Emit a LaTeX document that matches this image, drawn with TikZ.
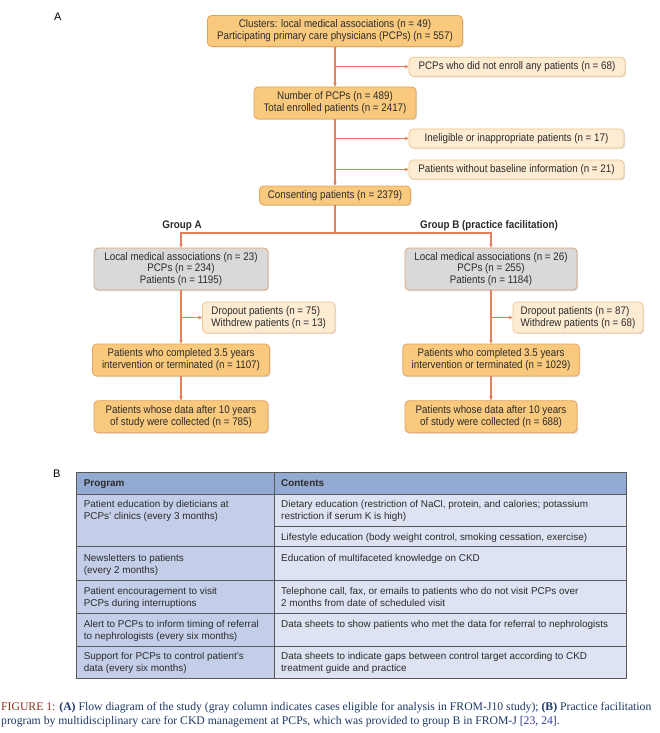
\documentclass[tikz,border=0pt]{standalone}
\usepackage{fontspec}
\setmainfont{Liberation Sans}
\newfontfamily\flowfont[FakeStretch=0.89]{Liberation Sans}
\newfontfamily\capfont{Liberation Serif}
\usetikzlibrary{arrows.meta,shadows}
\definecolor{ofill}{HTML}{F9C97E}
\definecolor{odraw}{HTML}{E3A35A}
\definecolor{sfill}{HTML}{FDEBD2}
\definecolor{sdraw}{HTML}{F1C792}
\definecolor{gfill}{HTML}{D9D9D9}
\definecolor{gdraw}{HTML}{D9A57A}
\definecolor{arr}{HTML}{E2805A}
\definecolor{thead}{HTML}{93AAD3}
\definecolor{tprog}{HTML}{C4CEE8}
\definecolor{tcont}{HTML}{DDE3F2}
\definecolor{tline}{HTML}{595959}
\definecolor{txt}{HTML}{2B2B2B}
\definecolor{capred}{HTML}{8E2F1F}
\definecolor{capblue}{HTML}{1E3868}
\definecolor{reflink}{HTML}{3B3BB5}
\begin{document}
\begin{tikzpicture}[x=1pt,y=-1pt,
  box/.style={rounded corners=4pt, line width=0.8pt, align=center, inner sep=0pt,
    text=txt, font=\flowfont\fontsize{11}{11.8}\selectfont,
    drop shadow={shadow xshift=1.2pt,shadow yshift=-1.2pt,opacity=0.25}},
  mainbox/.style={box, fill=ofill, draw=odraw},
  sidebox/.style={box, fill=sfill, draw=sdraw},
  graybox/.style={box, fill=gfill, draw=gdraw},
  conn/.style={draw=arr, line width=1.3pt},
  arrow/.style={conn, -{Stealth[length=4pt,width=3.8pt]}},
  cell/.style={anchor=base west, inner sep=0pt, text=txt, font=\fontsize{9.9}{12}\selectfont},
  hcell/.style={cell, font=\fontsize{9.9}{12}\selectfont\bfseries},
  grp/.style={anchor=base, inner sep=0pt, text=txt, font=\flowfont\fontsize{11}{12}\selectfont\bfseries},
  panel/.style={anchor=base west, inner sep=0pt, text=black, font=\fontsize{11}{13}\selectfont},
  capline/.style={anchor=base west, inner sep=0pt, text=capblue, font=\capfont\fontsize{11.7}{14}\selectfont},
  tl/.style={draw=tline, line width=0.8pt}
]
\useasboundingbox[fill=white] (0,0) rectangle (660,733);

% ---------- Panel A ----------
\node[panel] (labA) at (54,21) {A};

\node[mainbox, minimum width=255pt, minimum height=31pt] (top) at (335,31)
  {Clusters: local medical associations (n = 49)\\Participating primary care physicians (PCPs) (n = 557)};
\node[sidebox, minimum width=216pt, minimum height=19pt] (excl1) at (517,66.7)
  {PCPs who did not enroll any patients (n = 68)};
\node[mainbox, minimum width=162pt, minimum height=32pt] (n2) at (335,103)
  {Number of PCPs (n = 489)\\Total enrolled patients (n = 2417)};
\node[sidebox, minimum width=215pt, minimum height=19pt] (excl2) at (516.5,138.5)
  {Ineligible or inappropriate patients (n = 17)};
\node[sidebox, minimum width=215pt, minimum height=19pt] (excl3) at (516.5,169.5)
  {Patients without baseline information (n = 21)};
\node[mainbox, minimum width=151pt, minimum height=19pt] (cons) at (335,195.5)
  {Consenting patients (n = 2379)};

\node[grp] (gA) at (182,228.5) {Group A};
\node[grp] (gB) at (489,228.5) {Group B (practice facilitation)};

\node[graybox, minimum width=174pt, minimum height=42pt] (grayA) at (181,269)
  {Local medical associations (n = 23)\\PCPs (n = 234)\\Patients (n = 1195)};
\node[graybox, minimum width=172pt, minimum height=42pt] (grayB) at (491,269)
  {Local medical associations (n = 26)\\PCPs (n = 255)\\Patients (n = 1184)};

\node[sidebox, align=left, minimum width=132.5pt, minimum height=31pt] (dropA) at (268.75,317.5)
  {Dropout patients (n = 75)\\Withdrew patients (n = 13)};
\node[sidebox, align=left, minimum width=130pt, minimum height=31pt] (dropB) at (578,317.5)
  {Dropout patients (n = 87)\\Withdrew patients (n = 68)};

\node[mainbox, minimum width=177pt, minimum height=32pt] (compA) at (181,360)
  {Patients who completed 3.5 years\\intervention or terminated (n = 1107)};
\node[mainbox, minimum width=176.5pt, minimum height=32pt] (compB) at (491,360)
  {Patients who completed 3.5 years\\intervention or terminated (n = 1029)};

\node[mainbox, minimum width=174pt, minimum height=32pt] (finA) at (181,416.7)
  {Patients whose data after 10 years\\of study were collected (n = 785)};
\node[mainbox, minimum width=172pt, minimum height=32pt] (finB) at (491,416.7)
  {Patients whose data after 10 years\\of study were collected (n = 688)};

% connectors
\draw[arrow] (top.south) -- (n2.north);
\draw[arrow] (top.south |- excl1.west) -- (excl1.west);
\draw[arrow] (n2.south) -- (cons.north);
\draw[arrow] (n2.south |- excl2.west) -- (excl2.west);
\draw[arrow] (n2.south |- excl3.west) -- (excl3.west);
\coordinate (split) at (335,233);
\draw[conn] (cons.south) -- (split);
\draw[arrow] (split) -| (grayA.north);
\draw[arrow] (split) -| (grayB.north);
\draw[arrow] (grayA.south) -- (compA.north);
\draw[arrow] (grayA.south |- dropA.west) -- (dropA.west);
\draw[arrow] (compA.south) -- (finA.north);
\draw[arrow] (grayB.south) -- (compB.north);
\draw[arrow] (grayB.south |- dropB.west) -- (dropB.west);
\draw[arrow] (compB.south) -- (finB.north);

% ---------- Panel B ----------
\node[panel] (labB) at (53,477) {B};

\fill[thead] (76,472) rectangle (626.5,494);
\fill[tprog] (76,494) rectangle (274,678.3);
\fill[tcont] (274,494) rectangle (626.5,678.3);
\draw[tl] (76,472) rectangle (626.5,678.3);
\draw[tl] (274,472) -- (274,678.3);
\foreach \yy in {494,546.7,580,613.3,646} \draw[tl] (76,\yy) -- (626.5,\yy);
\draw[tl] (274,526) -- (626.5,526);

\node[hcell] (hprog) at (83.6,486.5) {Program};
\node[hcell] (hcont) at (281,486.5) {Contents};

\node[cell] (p1a) at (83.6,507.5) {Patient education by dieticians at};
\node[cell] (p1b) at (83.6,519.7) {PCPs' clinics (every 3 months)};
\node[cell] (c1a) at (281,507.5) {Dietary education (restriction of NaCl, protein, and calories; potassium};
\node[cell] (c1b) at (281,519.7) {restriction if serum K is high)};
\node[cell] (c1c) at (281,540.2) {Lifestyle education (body weight control, smoking cessation, exercise)};

\node[cell] (p2a) at (83.6,561.5) {Newsletters to patients};
\node[cell] (p2b) at (83.6,573.5) {(every 2 months)};
\node[cell] (c2a) at (281,561.5) {Education of multifaceted knowledge on CKD};

\node[cell] (p3a) at (83.6,594.5) {Patient encouragement to visit};
\node[cell] (p3b) at (83.6,606.5) {PCPs during interruptions};
\node[cell] (c3a) at (281,594.5) {Telephone call, fax, or emails to patients who do not visit PCPs over};
\node[cell] (c3b) at (281,606.5) {2 months from date of scheduled visit};

\node[cell] (p4a) at (83.6,627.5) {Alert to PCPs to inform timing of referral};
\node[cell] (p4b) at (83.6,639.3) {to nephrologists (every six months)};
\node[cell] (c4a) at (281,627.5) {Data sheets to show patients who met the data for referral to nephrologists};

\node[cell] (p5a) at (83.6,659.2) {Support for PCPs to control patient's};
\node[cell] (p5b) at (83.6,671.2) {data (every six months)};
\node[cell] (c5a) at (281,659.2) {Data sheets to indicate gaps between control target according to CKD};
\node[cell] (c5b) at (281,671.2) {treatment guide and practice};

% ---------- Caption ----------
\node[capline] (cap1) at (1,710.5) {\textcolor{capred}{FIGURE 1:} \textbf{(A)} Flow diagram of the study (gray column indicates cases eligible for analysis in FROM-J10 study); \textbf{(B)} Practice facilitation};
\node[capline] (cap2) at (1,724) {program by multidisciplinary care for CKD management at PCPs, which was provided to group B in FROM-J [\textcolor{reflink}{23}, \textcolor{reflink}{24}].};
\end{tikzpicture}
\end{document}
